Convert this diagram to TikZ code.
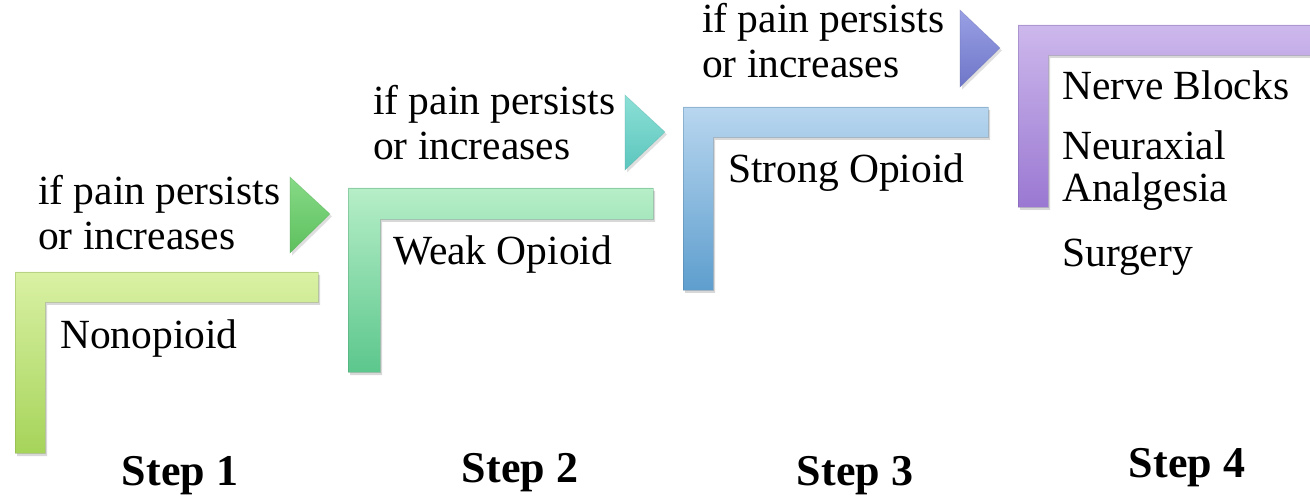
\documentclass[tikz,border=0pt]{standalone}
\usepackage{fontspec}
\setmainfont{Liberation Serif}
\usetikzlibrary{shadows}
\begin{document}
\begin{tikzpicture}[x=1pt,y=-1pt,
  lbl/.style={anchor=base west,inner sep=0pt,font=\fontsize{41.5}{45}\selectfont},
  steplbl/.style={anchor=base,inner sep=0pt,font=\bfseries\fontsize{44}{48}\selectfont},
  lshape/.style={draw=#1!75!black,draw opacity=0.35,line width=0.8pt,
    drop shadow={opacity=0.3,shadow xshift=2pt,shadow yshift=-3pt}},
  tri/.style={draw=#1!80!black,draw opacity=0.3,line width=0.6pt,
    drop shadow={opacity=0.25,shadow xshift=2pt,shadow yshift=-2.5pt}}]
\definecolor{gA}{HTML}{D9F1A4}\definecolor{gB}{HTML}{A6D45A}
\definecolor{mA}{HTML}{B6EEC8}\definecolor{mB}{HTML}{5CC78C}
\definecolor{bA}{HTML}{B8D6EF}\definecolor{bB}{HTML}{5E9ECE}
\definecolor{pA}{HTML}{CDB8EC}\definecolor{pB}{HTML}{9A78D2}
\definecolor{tA}{HTML}{86DA86}\definecolor{tB}{HTML}{5EC05E}
\definecolor{cA}{HTML}{8CE0D6}\definecolor{cB}{HTML}{5CC6BE}
\definecolor{vA}{HTML}{9AA0E4}\definecolor{vB}{HTML}{6E76C8}
\clip (0,0) rectangle (1310,497);
\fill[white] (0,0) rectangle (1310,497);
% L shapes
\path[lshape=gB,top color=gA,bottom color=gB]
  (15,272) -- (318,272) -- (318,302) -- (45,302) -- (45,453) -- (15,453) -- cycle;
\path[lshape=mB,top color=mA,bottom color=mB]
  (348,188) -- (653,188) -- (653,219) -- (380,219) -- (380,372) -- (348,372) -- cycle;
\path[lshape=bB,top color=bA,bottom color=bB]
  (683,107) -- (988,107) -- (988,137) -- (713,137) -- (713,290) -- (683,290) -- cycle;
\path[lshape=pB,top color=pA,bottom color=pB]
  (1018,25) -- (1330,25) -- (1330,55) -- (1048,55) -- (1048,207) -- (1018,207) -- cycle;
% triangles
\path[tri=tB,top color=tA,bottom color=tB] (290,177) -- (330,214) -- (290,253) -- cycle;
\path[tri=cB,top color=cA,bottom color=cB] (625,95) -- (665,132) -- (625,170) -- cycle;
\path[tri=vB,top color=vA,bottom color=vB] (960,10) -- (1000,48) -- (960,87) -- cycle;
% texts
\node[lbl] (p1a) at (38,205) {if pain persists};
\node[lbl] (p1b) at (38,250) {or increases};
\node[lbl] (n1) at (60,348) {Nonopioid};
\node[lbl] (p2a) at (373,115) {if pain persists};
\node[lbl] (p2b) at (373,160) {or increases};
\node[lbl] (n2) at (393,265) {Weak Opioid};
\node[lbl] (p3a) at (702,33) {if pain persists};
\node[lbl] (p3b) at (702,78) {or increases};
\node[lbl] (n3) at (728,183) {Strong Opioid};
\node[lbl] (n4a) at (1062,100) {Nerve Blocks};
\node[lbl] (n4b) at (1062,160) {Neuraxial};
\node[lbl] (n4c) at (1062,202) {Analgesia};
\node[lbl] (n4d) at (1062,267) {Surgery};
\node[steplbl] (s1) at (180,485) {Step 1};
\node[steplbl] (s2) at (520,482) {Step 2};
\node[steplbl] (s3) at (855,485) {Step 3};
\node[steplbl] (s4) at (1187,477) {Step 4};
\end{tikzpicture}
\end{document}
